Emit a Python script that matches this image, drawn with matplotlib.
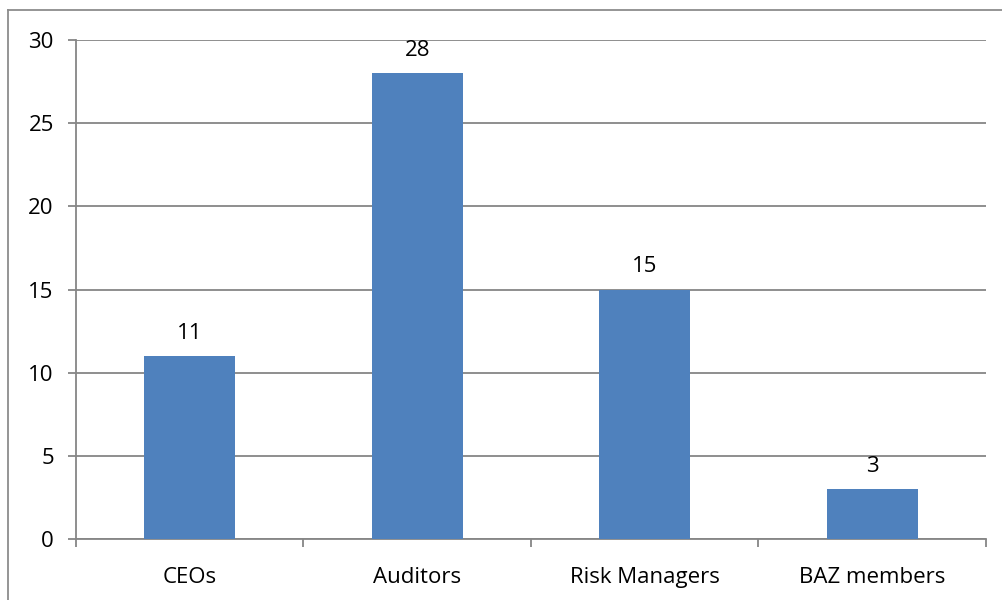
import matplotlib.pyplot as plt
from matplotlib.lines import Line2D

categories = ['CEOs', 'Auditors', 'Risk Managers', 'BAZ members']
values = [11, 28, 15, 3]

plt.rcParams['font.family'] = ['Open Sans', 'DejaVu Sans']

fig = plt.figure(figsize=(10.03, 6), dpi=100)
ax = fig.add_axes([76 / 1003, 1 - 539 / 600, 910 / 1003, 499 / 600])

grid_col = '#868686'
fs = 16
x = list(range(len(categories)))
ax.bar(x, values, width=0.4, color='#4F81BD', zorder=3)

for xi, v in zip(x, values):
    ax.annotate(str(v), (xi, v), xytext=(0, 9), textcoords='offset points',
                ha='center', va='bottom', fontsize=fs)

ax.set_xlim(-0.5, len(categories) - 0.5)
ax.set_ylim(0, 30)
ax.set_yticks(range(0, 31, 5))
ax.yaxis.grid(True, color=grid_col, linewidth=1.3, zorder=0)
ax.set_axisbelow(True)

# category boundary ticks below the axis, labels at the centres
ax.set_xticks([i - 0.5 for i in range(len(categories) + 1)])
ax.set_xticklabels([])
ax.set_xticks(x, minor=True)
ax.set_xticklabels(categories, minor=True, fontsize=fs)
ax.tick_params(axis='x', which='minor', length=0, pad=20)
ax.tick_params(axis='x', which='major', length=6, width=1.3, color=grid_col)
ax.tick_params(axis='y', length=6, width=1.3, color=grid_col, labelsize=fs, pad=10)

for side in ['top', 'right']:
    ax.spines[side].set_visible(False)
for side in ['left', 'bottom']:
    ax.spines[side].set_color(grid_col)
    ax.spines[side].set_linewidth(1.3)

# chart area frame
fig.add_artist(Line2D([8 / 1003, 8 / 1003], [0, 1 - 10 / 600], color='#8c8c8c', linewidth=1.3))
fig.add_artist(Line2D([8 / 1003, 1], [1 - 10 / 600, 1 - 10 / 600], color='#8c8c8c', linewidth=1.3))

fig.savefig('out.png', dpi=100)
